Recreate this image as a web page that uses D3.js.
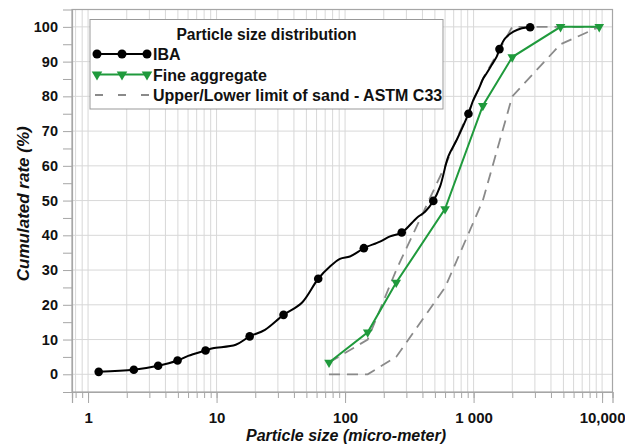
<!DOCTYPE html>
<html>
<head>
<meta charset="utf-8">
<script src="https://cdn.jsdelivr.net/npm/d3@7"></script>
<style>
  body { margin: 0; background: #fff; }
  text { font-family: Arial, "Liberation Sans", sans-serif; }
</style>
</head>
<body>
<div id="chart"></div>
<script>
// IBA curve (laser granulometry), markers only on some points
var ibaSize = [1.21, 2.27, 3.51, 4.97, 6.01, 8.21, 9.35, 14.1, 18.1, 23.8, 33.2, 45.9, 61.8,
  76.3, 91.2, 109, 127, 140, 187, 224, 276, 361, 419, 486, 548, 636, 740, 912,
  996, 1089, 1191, 1267, 1386, 1517, 1590, 1760, 2042, 2373, 2755];
var ibaPass = [0.7, 1.3, 2.45, 3.97, 5.3, 6.85, 7.5, 8.5, 10.9, 12.8, 17.1, 20.5, 27.5,
  31.0, 33.2, 33.9, 35.3, 36.3, 38.2, 39.7, 40.8, 45.0, 46.8, 49.9, 54.0, 62.7, 67.5, 75.0,
  79.0, 81.9, 85.2, 86.7, 89.1, 91.5, 93.6, 96.7, 98.6, 99.6, 99.9];
var ibaMarker = [1, 1, 1, 1, 0, 1, 0, 0, 1, 0, 1, 0, 1,
  0, 0, 0, 0, 1, 0, 0, 1, 0, 0, 1, 0, 0, 0, 1,
  0, 0, 0, 0, 0, 0, 1, 0, 0, 0, 1];

var sieveSize = [75, 150, 250, 600, 1180, 2000, 4750, 9500];
var finePass = [3.4, 12.1, 26.4, 47.6, 77.3, 91.3, 100, 100];
var upperLimit = [3.4, 10, 30, 60, 85, 100, 100, 100];
var lowerLimit = [0, 0, 5, 25, 50, 80, 95, 100];

var xTickValues = [1, 10, 100, 1000, 10000];
var xTickLabels = ["1", "10", "100", "1 000", "10,000"];
var yTickValues = [0, 10, 20, 30, 40, 50, 60, 70, 80, 90, 100];

var legendLabels = ["IBA", "Fine aggregate", "Upper/Lower limit of sand - ASTM C33"];

const dim = {
  width: 540.5,
  height: 382.5,
  top: 9.5,
  left: 72,
};

var green = "#1f9a3c";
var dashGray = "#8a8a8a";
var gridGray = "#d8d8d8";

var svg = d3
  .select("#chart")
  .append("svg")
  .attr("width", 625)
  .attr("height", 448);

var g = svg.append("g").attr("transform", "translate(" + dim.left + "," + dim.top + ")");

var x = d3.scaleLog().domain([0.75, 12050]).range([0, dim.width]);
var y = d3.scaleLinear().domain([-5.1, 105]).range([dim.height, 0]);

// minor values in each decade
var minorX = [];
for (var p = -1; p <= 4; p++) {
  for (var k = 1; k <= 9; k++) {
    var v = k * Math.pow(10, p);
    if (v >= x.domain()[0] && v <= 10000) minorX.push(v);
  }
}

// grid
g.selectAll(".vgrid")
  .data(minorX)
  .enter()
  .append("line")
  .attr("x1", function (d) { return x(d); })
  .attr("x2", function (d) { return x(d); })
  .attr("y1", 0)
  .attr("y2", dim.height)
  .style("stroke", gridGray)
  .style("stroke-width", 1);

g.selectAll(".hgrid")
  .data(yTickValues)
  .enter()
  .append("line")
  .attr("x1", 0)
  .attr("x2", dim.width)
  .attr("y1", function (d) { return y(d); })
  .attr("y2", function (d) { return y(d); })
  .style("stroke", gridGray)
  .style("stroke-width", 1);

// frame
g.append("rect")
  .attr("width", dim.width)
  .attr("height", dim.height)
  .style("fill", "none")
  .style("stroke", "#a6a6a6")
  .style("stroke-width", 1.2);

// x axis
var xAxisMinor = d3.axisBottom(x).tickValues(minorX).tickSize(6).tickFormat("");
var xAxisMajor = d3
  .axisBottom(x)
  .tickValues(xTickValues)
  .tickSize(11)
  .tickPadding(9)
  .tickFormat(function (d, i) { return xTickLabels[i]; });

g.append("g").attr("transform", "translate(0," + dim.height + ")").call(xAxisMinor);
var xAx = g.append("g").attr("transform", "translate(0," + dim.height + ")").call(xAxisMajor);

// y axis
var yMinor = [];
for (var t = 0; t <= 100; t += 5) yMinor.push(t);
var yAx = g.append("g").call(
  d3.axisLeft(y).tickValues(yMinor).tickSize(9).tickPadding(5)
    .tickFormat(function (d) { return d % 10 == 0 ? d : ""; })
);

g.selectAll(".domain").style("stroke", "#a6a6a6").style("stroke-width", 1.2);
g.selectAll(".tick line").style("stroke", "#a6a6a6");
xAx.selectAll("text").style("font-size", "15px").style("font-weight", "bold").style("fill", "#111");
yAx.selectAll("text").style("font-size", "14.5px").style("font-weight", "bold").style("fill", "#111");

// upper / lower limits
var sieveLine = d3.line()
  .x(function (d, i) { return x(sieveSize[i]); })
  .y(function (d) { return y(d); });

[upperLimit, lowerLimit].forEach(function (lim) {
  g.append("path")
    .attr("d", sieveLine(lim))
    .style("fill", "none")
    .style("stroke", dashGray)
    .style("stroke-width", 1.8)
    .style("stroke-dasharray", "11,7");
});

// fine aggregate
g.append("path")
  .attr("d", sieveLine(finePass))
  .style("fill", "none")
  .style("stroke", green)
  .style("stroke-width", 2);

var tri = d3.symbol().type(d3.symbolTriangle).size(40);
g.selectAll(".tri")
  .data(finePass)
  .enter()
  .append("path")
  .attr("d", tri)
  .attr("transform", function (d, i) {
    return "translate(" + x(sieveSize[i]) + "," + y(d) + ") rotate(180)";
  })
  .style("fill", green);

// IBA
var ibaLine = d3.line()
  .x(function (d, i) { return x(ibaSize[i]); })
  .y(function (d) { return y(d); })
  .curve(d3.curveCatmullRom);

g.append("path")
  .attr("d", ibaLine(ibaPass))
  .style("fill", "none")
  .style("stroke", "#000")
  .style("stroke-width", 2);

g.selectAll(".dot")
  .data(ibaPass.filter(function (d, i) { return ibaMarker[i]; }))
  .enter()
  .append("circle")
  .attr("cx", function (d) { return x(ibaSize[ibaPass.indexOf(d)]); })
  .attr("cy", function (d) { return y(d); })
  .attr("r", 4.3)
  .style("fill", "#000");

// axis titles
svg.append("text")
  .attr("text-anchor", "middle")
  .attr("transform", "translate(29," + (dim.top + dim.height / 2 + 3) + ") rotate(-90)")
  .style("font-size", "17px")
  .style("font-weight", "bold")
  .style("font-style", "italic")
  .style("fill", "#111")
  .text("Cumulated rate (%)");

svg.append("text")
  .attr("text-anchor", "middle")
  .attr("x", 346)
  .attr("y", 441)
  .style("font-size", "16px")
  .style("font-weight", "bold")
  .style("font-style", "italic")
  .style("fill", "#111")
  .text("Particle size (micro-meter)");

// legend
var lg = svg.append("g");
lg.append("rect")
  .attr("x", 90)
  .attr("y", 19.5)
  .attr("width", 353)
  .attr("height", 89.5)
  .style("fill", "#fff")
  .style("stroke", "#999")
  .style("stroke-width", 1);

lg.append("text")
  .attr("x", 266.5)
  .attr("y", 39.5)
  .attr("text-anchor", "middle")
  .style("font-size", "15.6px")
  .style("font-weight", "bold")
  .style("fill", "#111")
  .text("Particle size distribution");

var rowY = [54, 74.5, 95];
var legX = [97, 122, 147];

lg.append("line").attr("x1", 97).attr("x2", 147).attr("y1", rowY[0]).attr("y2", rowY[0])
  .style("stroke", "#000").style("stroke-width", 2);
lg.selectAll(".ldot").data(legX).enter().append("circle")
  .attr("cx", function (d) { return d; }).attr("cy", rowY[0]).attr("r", 4.5).style("fill", "#000");

lg.append("line").attr("x1", 97).attr("x2", 147).attr("y1", rowY[1]).attr("y2", rowY[1])
  .style("stroke", green).style("stroke-width", 2);
lg.selectAll(".ltri").data(legX).enter().append("path")
  .attr("d", d3.symbol().type(d3.symbolTriangle).size(48))
  .attr("transform", function (d) { return "translate(" + d + "," + rowY[1] + ") rotate(180)"; })
  .style("fill", green);

lg.append("line").attr("x1", 95).attr("x2", 151).attr("y1", rowY[2]).attr("y2", rowY[2])
  .style("stroke", dashGray).style("stroke-width", 1.8).style("stroke-dasharray", "8,15");

lg.selectAll(".ltext")
  .data(legendLabels)
  .enter()
  .append("text")
  .attr("x", 153)
  .attr("y", function (d, i) { return rowY[i] + 6; })
  .style("font-size", "16px")
  .style("font-weight", "bold")
  .style("fill", "#111")
  .text(function (d) { return d; });
</script>
</body>
</html>
